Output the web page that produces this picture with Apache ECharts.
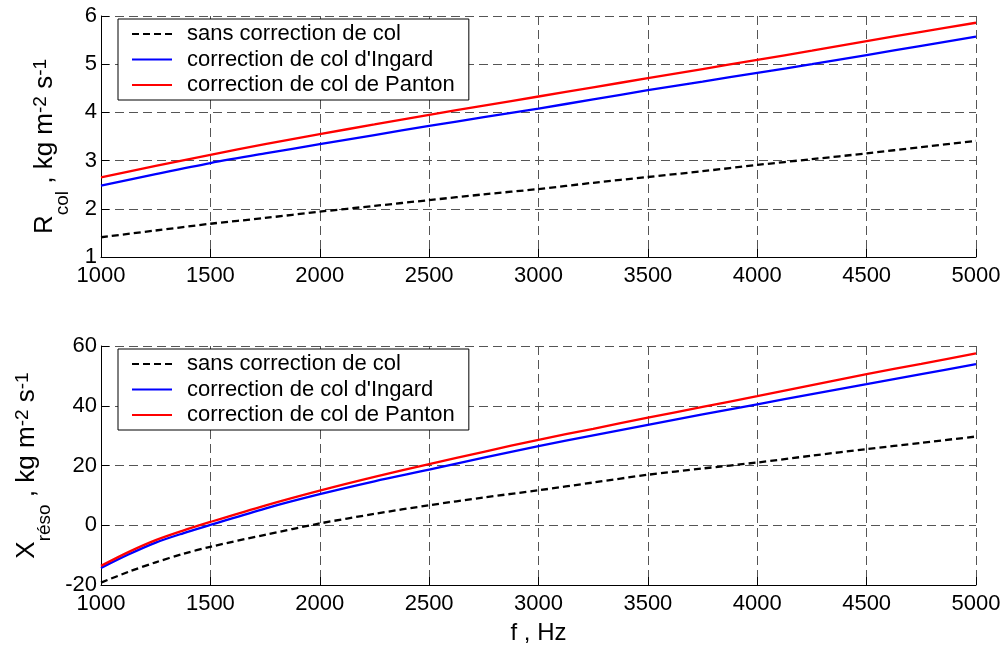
<!DOCTYPE html>
<html>
<head>
<meta charset="utf-8">
<script src="https://cdn.jsdelivr.net/npm/echarts@6/dist/echarts.min.js"></script>
<style>
html,body{margin:0;padding:0;background:#fff;}
#c{width:1004px;height:646px;}
</style>
</head>
<body>
<div id="c"></div>
<script>
// ---- data ----
const seriesNames = ['sans correction de col', "correction de col d'Ingard", 'correction de col de Panton'];
const xTicks = [1000, 1500, 2000, 2500, 3000, 3500, 4000, 4500, 5000];

const freqTop = [1000,1250,1500,1750,2000,2250,2500,2750,3000,3250,3500,3750,4000,4250,4500,4750,5000];
const rSans   = [1.41,1.55,1.69,1.81,1.94,2.06,2.18,2.30,2.41,2.54,2.66,2.78,2.91,3.03,3.15,3.28,3.41];
const rIngard = [2.48,2.72,2.95,3.15,3.34,3.53,3.72,3.90,4.08,4.27,4.46,4.64,4.82,5.00,5.19,5.38,5.57];
const rPanton = [2.65,2.89,3.12,3.34,3.55,3.75,3.95,4.14,4.33,4.52,4.71,4.90,5.09,5.28,5.48,5.67,5.86];

const freqBot = [1000,1125,1250,1375,1500,1750,2000,2250,2500,2750,3000,3250,3500,3750,4000,4250,4500,4750,5000];
const xSans   = [-19.2,-15.6,-12.4,-9.6,-7.2,-3.2,0.6,3.8,6.7,9.3,11.7,14.3,16.9,19.0,21.0,23.3,25.5,27.6,29.7];
const xIngard = [-14.3,-9.8,-5.8,-2.7,0.1,5.6,10.4,14.7,18.6,22.6,26.5,30.1,33.6,37.1,40.5,43.9,47.2,50.6,53.9];
const xPanton = [-13.6,-9.0,-5.0,-1.8,1.1,6.6,11.6,16.2,20.5,24.6,28.6,32.3,36.0,39.6,43.2,46.9,50.6,54.0,57.5];

const yTop = {min: 1, max: 6, interval: 1};
const yBot = {min: -20, max: 60, interval: 20};

// ---- chart ----
const FONT = 'Liberation Sans, Arial, Helvetica, sans-serif';
const pairs = (xs, ys) => xs.map((x, i) => [x, ys[i]]);
const colors = ['#000000', '#0000ff', '#ff0000'];

const richName = {
  m: {fontSize: 26, fontFamily: FONT, color: '#000', lineHeight: 50},
  s: {fontSize: 19, fontFamily: FONT, color: '#000', height: 14, verticalAlign: 'bottom'},
  p: {fontSize: 19, fontFamily: FONT, color: '#000', height: 42, verticalAlign: 'top'}
};

function xAxisCfg(gi, withName) {
  const c = {
    type: 'value', gridIndex: gi, min: xTicks[0], max: xTicks[xTicks.length - 1], interval: 500,
    axisLine: {show: true, onZero: false, lineStyle: {color: '#000', width: 1}},
    axisTick: {show: true, inside: true, length: 8, lineStyle: {color: '#000'}},
    axisLabel: {fontSize: 22, fontFamily: FONT, color: '#000', margin: 8, formatter: v => String(v)},
    splitLine: {show: true, lineStyle: {color: '#555', type: [9, 5], width: 1}}
  };
  if (withName) {
    c.name = 'f , Hz';
    c.nameLocation = 'middle';
    c.nameGap = 36;
    c.nameTextStyle = {fontSize: 24, fontFamily: FONT, color: '#000'};
  }
  return c;
}
function yAxisCfg(gi, rng, name, gap, shift) {
  return {
    type: 'value', gridIndex: gi, min: rng.min, max: rng.max, interval: rng.interval,
    axisLine: {show: true, onZero: false, lineStyle: {color: '#000', width: 1}},
    axisTick: {show: true, inside: true, length: 8, lineStyle: {color: '#000'}},
    axisLabel: {fontSize: 22, fontFamily: FONT, color: '#000', margin: 4, formatter: v => String(v)},
    splitLine: {show: true, lineStyle: {color: '#555', type: [9, 5], width: 1}},
    name: name, nameLocation: 'middle', nameRotate: 90, nameGap: gap,
    nameTextStyle: {rich: richName, padding: [0, shift, 0, 0]}
  };
}
function lineSeries(i, gi, data) {
  return {
    name: seriesNames[i], type: 'line', xAxisIndex: gi, yAxisIndex: gi,
    data: data, symbol: 'none', smooth: 0.3,
    lineStyle: {color: colors[i], width: 2.3, type: i === 0 ? [7, 4] : 'solid'},
    itemStyle: {color: colors[i]},
    z: 3 + i
  };
}
function legendCfg(top) {
  return {
    data: seriesNames, orient: 'vertical', left: 118, top: top,
    backgroundColor: '#fff', borderColor: '#000', borderWidth: 1, borderRadius: 0,
    padding: [4, 14, 4, 13], itemGap: 3.5, itemWidth: 40, itemHeight: 14,
    itemStyle: {opacity: 0},
    textStyle: {fontSize: 22, fontFamily: FONT, color: '#000', lineHeight: 22, padding: [0, 0, 0, 10]},
    selectedMode: false, z: 10
  };
}

const chart = echarts.init(document.getElementById('c'), null, {renderer: 'canvas'});
chart.setOption({
  animation: false,
  backgroundColor: '#fff',
  grid: [
    {left: 101, right: 28, top: 16, height: 241},
    {left: 101, right: 28, top: 346, height: 240}
  ],
  legend: [legendCfg(19), legendCfg(349)],
  xAxis: [xAxisCfg(0, false), xAxisCfg(1, true)],
  yAxis: [
    yAxisCfg(0, yTop, '{m|R}{s|col}{m| , kg m}{p|-2}{m| s}{p|-1}', 31, 20),
    yAxisCfg(1, yBot, '{m|X}{s|réso}{m| , kg m}{p|-2}{m| s}{p|-1}', 47, 0)
  ],
  series: [
    lineSeries(0, 0, pairs(freqTop, rSans)),
    lineSeries(1, 0, pairs(freqTop, rIngard)),
    lineSeries(2, 0, pairs(freqTop, rPanton)),
    lineSeries(0, 1, pairs(freqBot, xSans)),
    lineSeries(1, 1, pairs(freqBot, xIngard)),
    lineSeries(2, 1, pairs(freqBot, xPanton))
  ]
});
</script>
</body>
</html>
